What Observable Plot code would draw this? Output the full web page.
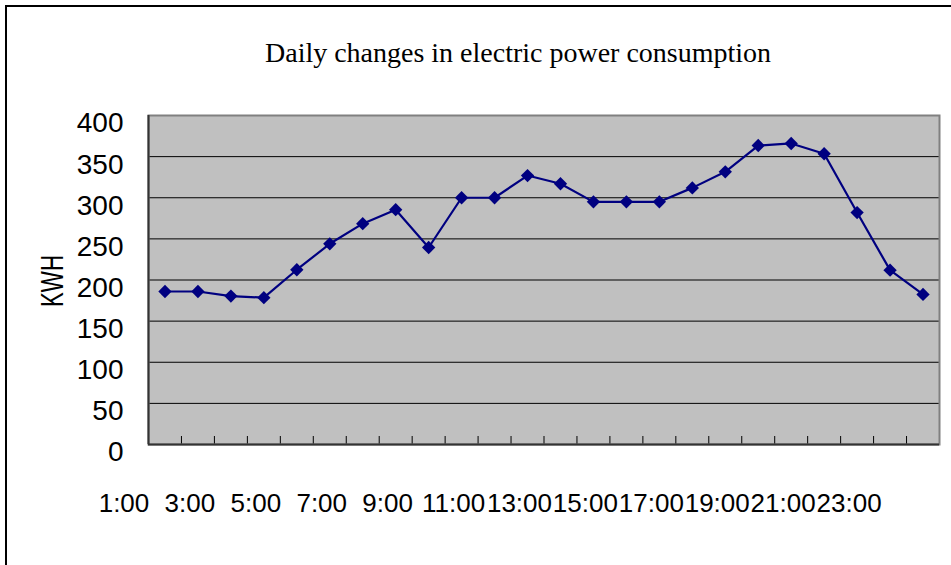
<!DOCTYPE html>
<html>
<head>
<meta charset="utf-8">
<script src="https://cdn.jsdelivr.net/npm/d3@7"></script>
<script src="https://cdn.jsdelivr.net/npm/@observablehq/plot@0.6"></script>
<style>
  html, body { margin: 0; padding: 0; background: #fff; overflow: hidden; }
  #wrap { position: relative; width: 951px; height: 565px; }
  #wrap svg { display: block; position: absolute; left: 0; top: 0; }
  #border { position: absolute; left: 5px; top: 5px; width: 1000px; height: 700px; border: 2px solid #000; pointer-events: none; }
</style>
</head>
<body>
<div id="wrap"><div id="border"></div></div>
<script>
const titleText = "Daily changes in electric power consumption";
const yTitle = "KWH";
const hourLabels = ["1:00","2:00","3:00","4:00","5:00","6:00","7:00","8:00","9:00","10:00","11:00","12:00",
  "13:00","14:00","15:00","16:00","17:00","18:00","19:00","20:00","21:00","22:00","23:00","24:00"];
const kwh = [186, 186, 180.5, 178.5, 212.5, 244, 268.5, 285.5, 239.5, 300, 300, 327,
  317, 295, 295, 295, 312, 331.5, 363.5, 366, 353.5, 282, 212, 182.5];
const yTicks = [0, 50, 100, 150, 200, 250, 300, 350, 400];
const gridValues = [50, 100, 150, 200, 250, 300, 350];
const shownLabels = ["1:00","3:00","5:00","7:00","9:00","11:00","13:00","15:00","17:00","19:00","21:00","23:00"];

const data = hourLabels.map((h, i) => ({hour: h, pos: i + 1, value: kwh[i]}));
const boundaries = hourLabels.map((h, i) => i + 1.5);
const labelData = shownLabels.map(l => ({label: l, pos: hourLabels.indexOf(l) + 1}));

const chart = Plot.plot({
  width: 951,
  height: 565,
  marginLeft: 148,
  marginRight: 12,
  marginTop: 115,
  marginBottom: 121,
  style: {fontFamily: "'Liberation Sans', Arial, sans-serif", background: "transparent", color: "#000"},
  x: {type: "linear", domain: [0.5, hourLabels.length + 0.5], axis: null},
  y: {domain: [0, 400], axis: null},
  marks: [
    Plot.frame({fill: "#C0C0C0", stroke: "none"}),
    Plot.ruleY(gridValues, {stroke: "#000", strokeWidth: 1}),
    Plot.ruleX(boundaries, {stroke: "#000", strokeWidth: 1, insetTop: 321}),
    Plot.frame({stroke: "#808080", strokeWidth: 2, fill: "none"}),
    Plot.ruleY([0], {stroke: "#333", strokeWidth: 2}),
    Plot.ruleX([0.5], {stroke: "#333", strokeWidth: 2}),
    Plot.line(data, {x: "pos", y: "value", stroke: "#000080", strokeWidth: 2.2}),
    Plot.dot(data, {x: "pos", y: "value", symbol: "diamond2", r: 6, fill: "#000080", stroke: "none"}),
    Plot.axisY({ticks: yTicks, tickSize: 0, tickPadding: 25, dy: 8, fontSize: 28, label: null, tickFormat: d => String(d)}),
    Plot.text(labelData, {x: "pos", text: "label", frameAnchor: "bottom", lineAnchor: "middle", dy: 59, dx: -41, fontSize: 26, fill: "#000"}),
    Plot.text([yTitle], {text: d => d, frameAnchor: "left", textAnchor: "middle", lineAnchor: "middle", rotate: -90, dx: -95, dy: 1, fontSize: 31, fill: "#000", className: "ytitle"}),
    Plot.text([titleText], {text: d => d, frameAnchor: "top", textAnchor: "middle", lineAnchor: "middle", dy: -62, dx: -26, fontSize: 27, fill: "#000",
      fontFamily: "'Liberation Serif', 'Times New Roman', serif", className: "ctitle"})
  ]
});

document.getElementById("wrap").insertBefore(chart, document.getElementById("border"));

chart.querySelectorAll(".ytitle text").forEach(t => { t.setAttribute("textLength", 52); t.setAttribute("lengthAdjust", "spacingAndGlyphs"); });
chart.querySelectorAll(".ctitle text").forEach(t => { t.setAttribute("textLength", 506); t.setAttribute("lengthAdjust", "spacingAndGlyphs"); });
</script>
</body>
</html>
